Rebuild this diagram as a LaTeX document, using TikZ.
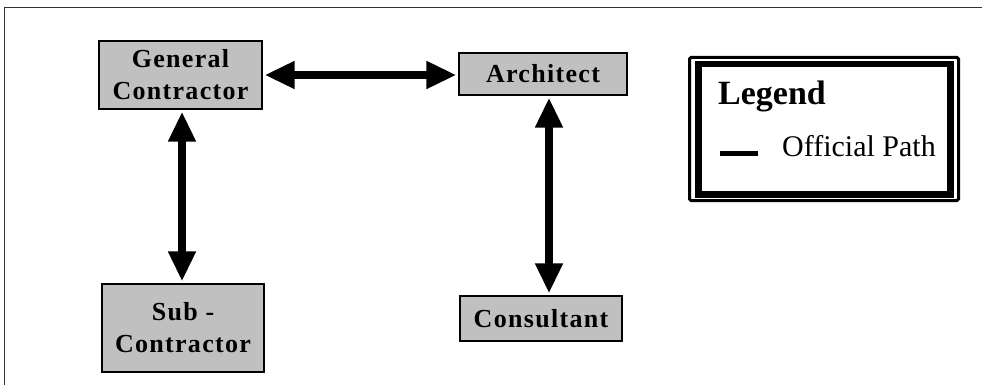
\documentclass[tikz,border=0pt]{standalone}
\usepackage{fontspec}
\setmainfont{Liberation Serif}
\newfontfamily\boxfont[LetterSpace=5]{Liberation Serif}
\usetikzlibrary{arrows.meta}
\definecolor{boxgray}{RGB}{192,192,192}
\definecolor{framegray}{RGB}{50,50,50}
\begin{document}
\begin{tikzpicture}[x=1pt,y=-1pt,
  actor/.style={draw=black, line width=2.2pt, fill=boxgray, inner sep=0pt,
    font=\boxfont\bfseries\fontsize{26}{32}\selectfont, align=center},
  dbl/.style={line width=8pt, {Triangle[length=30pt,width=26pt]}-{Triangle[length=30pt,width=26pt]}, shorten <=1.5pt, shorten >=1.5pt}
]
\useasboundingbox (0,0) rectangle (982,385);
\fill[white] (0,0) rectangle (982,385);
% outer frame (only top and left visible)
\draw[framegray, line width=1.8pt] (4.5,386) -- (4.5,7.5) -- (983,7.5);

% boxes
\node[actor, minimum width=163pt, minimum height=68pt] (gc) at (180.5,75) {General\\Contractor};
\node[actor, minimum width=168pt, minimum height=42pt] (arch) at (543,74) {Architect};
\node[actor, minimum width=162pt, minimum height=88pt] (sub) at (183,328) {Sub -\\Contractor};
\node[actor, minimum width=162pt, minimum height=45pt] (cons) at (541,318.5) {Consultant};

% arrows
\draw[dbl] (gc.east) -- (gc.east -| arch.west);
\draw[dbl] ([xshift=1.5pt]gc.south) -- ([xshift=1.5pt]gc.south |- sub.north);
\draw[dbl] ([xshift=6pt]arch.south) -- ([xshift=6pt]arch.south |- cons.north);

% legend
\node[draw=black, line width=3pt, rounded corners=1.5pt, minimum width=269pt, minimum height=143pt, inner sep=0pt] (legout) at (824,129) {};
\node[draw=black, line width=6.5pt, minimum width=252pt, minimum height=130.5pt, inner sep=0pt] (legin) at (824.25,129.25) {};
\node[anchor=base west, font=\bfseries\fontsize{34}{38}\selectfont, inner sep=0pt] (legtitle) at (718,105) {Legend};
\coordinate (dashA) at (720,153);
\coordinate (dashB) at (758,153);
\draw[line width=5pt] (dashA) -- (dashB);
\node[anchor=base west, font=\fontsize{30}{34}\selectfont, inner sep=0pt] (legtext) at (782,157) {Official Path};
\end{tikzpicture}
\end{document}
